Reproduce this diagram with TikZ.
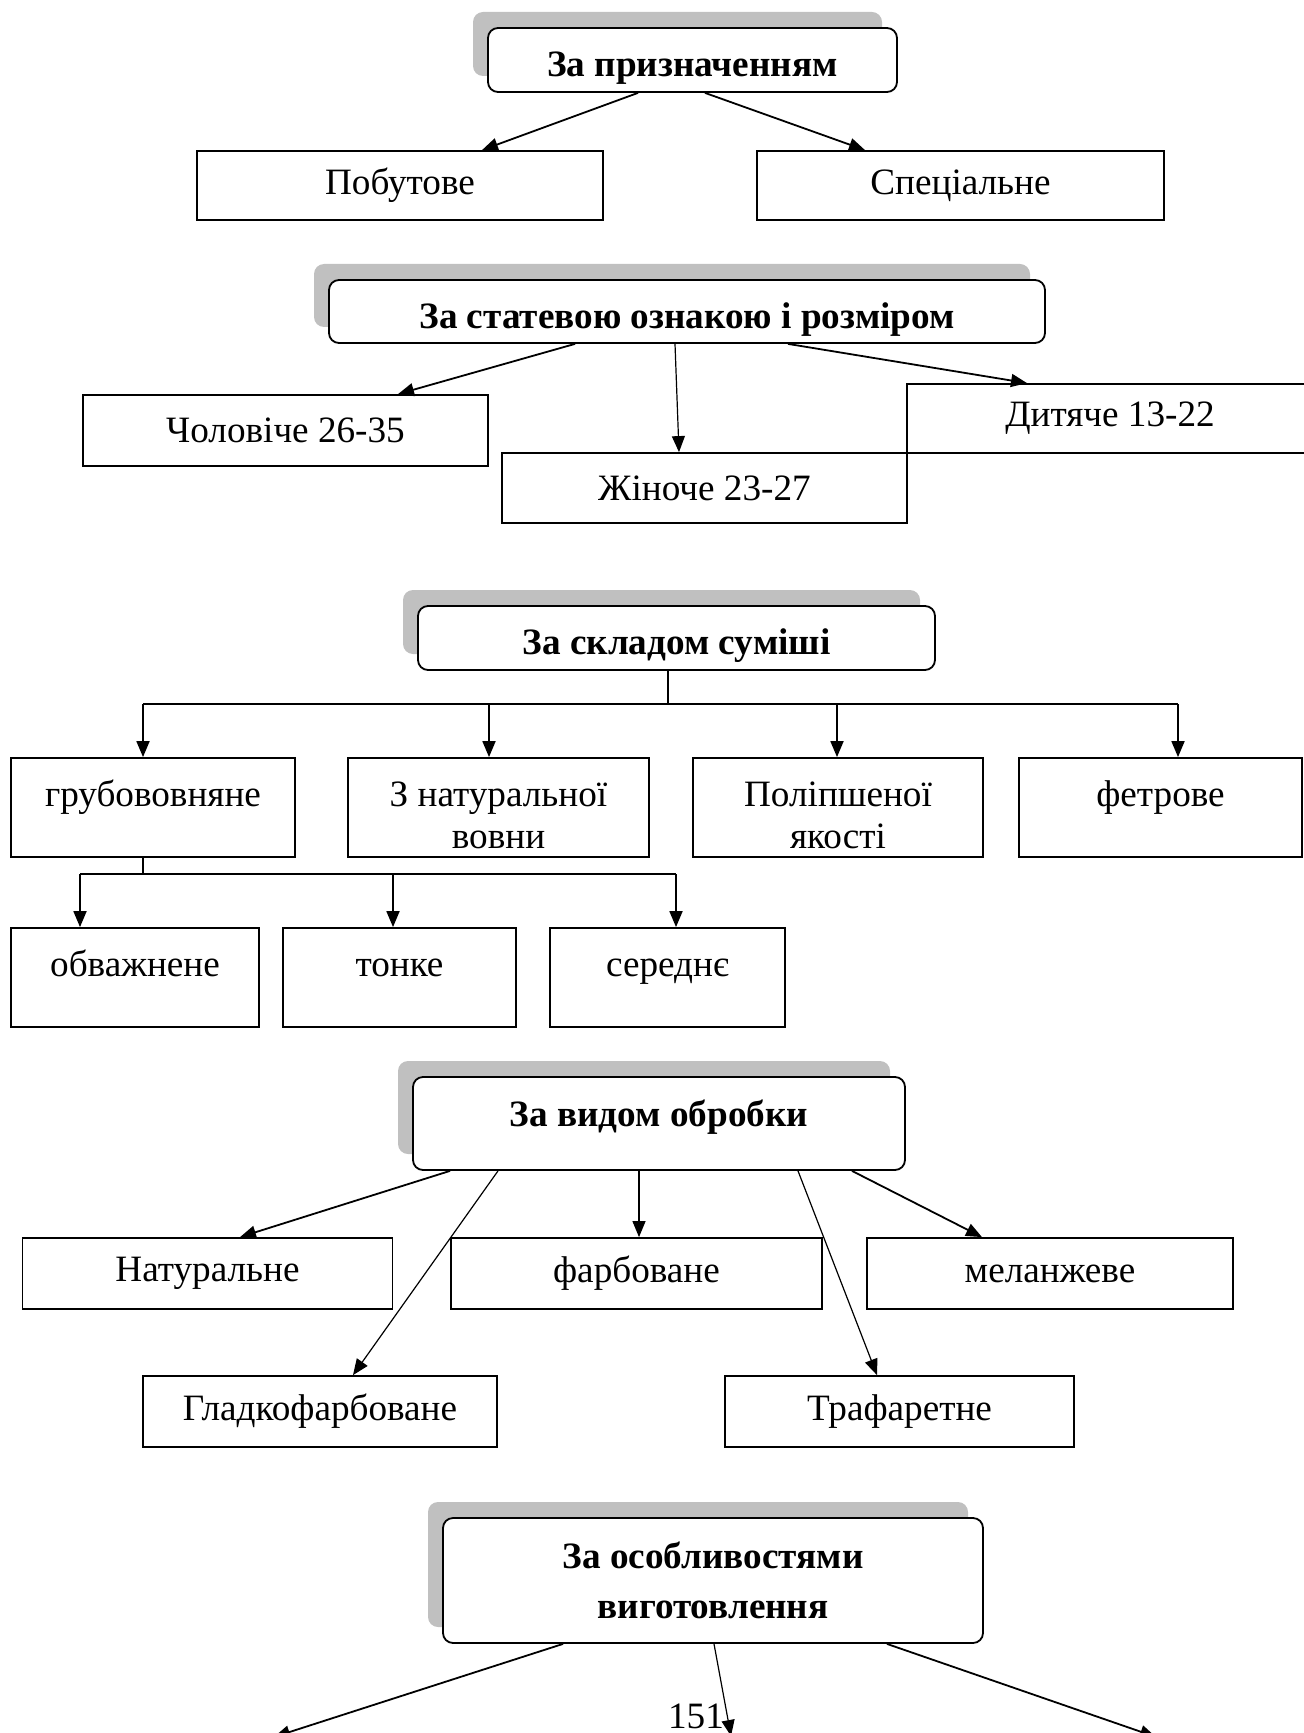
\documentclass[tikz,border=0pt]{standalone}
\usepackage{fontspec}
\setmainfont{Liberation Serif}
\usepackage{tikz}
\usetikzlibrary{arrows.meta, calc, shadows}
\definecolor{shadowgray}{RGB}{192,192,192}
\newcommand{\diagfont}{\fontsize{18.6}{21}\selectfont}

\begin{document}
\begin{tikzpicture}[
  x=0.5pt, y=-0.5pt,
  hdr/.style={draw, rounded corners=5pt, fill=white, line width=0.9pt, inner sep=0pt, align=center, font=\diagfont\bfseries,
    drop shadow={shadow xshift=-7.5pt, shadow yshift=8pt, fill=shadowgray, opacity=1}},
  hdrone/.style={hdr, text height=19pt, text depth=2.3pt},
  leaf/.style={draw, line width=0.9pt, inner sep=0pt, align=center, font=\diagfont},
  leaftop/.style={leaf, text height=24pt, text depth=25.5pt},
  leaftoptwo/.style={leaf, text height=45pt, text depth=4.5pt},
  flow/.style={-{Triangle[length=8pt, width=6.5pt]}, line width=0.9pt},
  flowthin/.style={flow, line width=0.6pt},
  bus/.style={line width=0.9pt},
  tie/.style={line width=0.6pt}
]
\useasboundingbox (0,0) rectangle (1304,1733);

% За призначенням
\node[hdrone, minimum width=204.5pt, minimum height=32pt] (hdrA) at (692.5,60) {За призначенням};
\node[leaf, minimum width=203pt, minimum height=34.5pt] (pob) at (400,185.5) {Побутове};
\node[leaf, minimum width=203.5pt, minimum height=34.5pt] (spec) at (960.5,185.5) {Спеціальне};

\draw[flow] ($(hdrA.south)+(-54.5,0)$) -- ($(pob.north)+(82,0)$);
\draw[flow] ($(hdrA.south)+(12.5,0)$) -- ($(spec.north)+(-95.5,0)$);

% За статевою ознакою
\node[hdrone, minimum width=358pt, minimum height=31.5pt] (hdrB) at (687,311.5) {За статевою ознакою і розміром};
\node[leaf, minimum width=202.5pt, minimum height=35.5pt] (chol) at (285.5,430.5) {Чоловіче 26-35};
\node[leaf, minimum width=202.5pt, minimum height=35pt] (zhin) at (704.5,488) {Жіноче 23-27};
\node[leaf, minimum width=203pt, minimum height=34.5pt] (dyt) at (1110,418.5) {Дитяче 13-22};

\draw[flow] ($(hdrB.south)+(-112,0)$) -- ($(chol.north)+(112.5,0)$);
\draw[flowthin] ($(hdrB.south)+(-12,0)$) -- ($(zhin.north)+(-25.5,0)$);
\draw[flow] ($(hdrB.south)+(101,0)$) -- ($(dyt.north)+(-83,0)$);

% За складом суміші
\node[hdrone, minimum width=258.5pt, minimum height=32pt] (hdrC) at (676.5,638) {За складом суміші};
\node[leaftop, minimum width=142pt] (grub) at (153,807.5) {грубововняне};
\node[leaftoptwo, minimum width=150.5pt] (nat) at (498.5,807.5) {З натуральної\\вовни};
\node[leaftoptwo, minimum width=145pt] (pol) at (838,807.5) {Поліпшеної\\якості};
\node[leaftop, minimum width=141.5pt] (fetr) at (1160.5,807.5) {фетрове};

\coordinate (busC) at (668,704);
\coordinate (c1) at (143,704);
\coordinate (c2) at (489,704);
\coordinate (c3) at (837,704);
\coordinate (c4) at (1178,704);
\draw[tie] ($(hdrC.south)+(-8.5,0)$) -- (busC);
\draw[bus] (c1) -- (c4);
\foreach \c/\n in {c1/grub, c2/nat, c3/pol, c4/fetr}
  \draw[flow] (\c) -- (\c |- \n.north);

% грубововняне
\node[leaftop, minimum width=124pt] (obv) at (135,977.5) {обважнене};
\node[leaftop, minimum width=116.5pt] (tonk) at (399.5,977.5) {тонке};
\node[leaftop, minimum width=117.5pt] (ser) at (667.5,977.5) {середнє};

\coordinate (d1) at (80,874);
\coordinate (d2) at (393,874);
\coordinate (d3) at (676,874);
\draw[tie] (c1 |- grub.south) -- (c1 |- d1);
\draw[bus] (d1) -- (d3);
\foreach \c/\n in {d1/obv, d2/tonk, d3/ser}
  \draw[flow] (\c) -- (\c |- \n.north);

% За видом обробки
\node[hdr, text height=13pt, text depth=10pt, minimum width=246pt, minimum height=46.5pt] (hdrD) at (659,1123.5) {За видом обробки};
\node[leaf, minimum width=185pt, minimum height=35.5pt] (natur) at (207.5,1273.5) {Натуральне};
\node[leaf, minimum width=185.5pt, minimum height=35.5pt] (farb) at (636.5,1273.5) {фарбоване};
\node[leaf, minimum width=183pt, minimum height=35.5pt] (melan) at (1050,1273.5) {меланжеве};
\node[leaf, minimum width=177pt, minimum height=35.5pt] (glad) at (320,1411.5) {Гладкофарбоване};
\node[leaf, minimum width=174.5pt, minimum height=35.5pt] (traf) at (899.5,1411.5) {Трафаретне};

\draw[flow] ($(hdrD.south)+(-209,0)$) -- ($(natur.north)+(32.5,0)$);
\draw[flowthin] ($(hdrD.south)+(-161,0)$) -- ($(glad.north)+(33,0)$);
\draw[flowthin] ($(hdrD.south)+(-20,0)$) -- ($(farb.north)+(2.5,0)$);
\draw[flowthin] ($(hdrD.south)+(139,0)$) -- ($(traf.north)+(-22.5,0)$);
\draw[flow] ($(hdrD.south)+(193,0)$) -- ($(melan.north)+(-68,0)$);

% За особливостями виготовлення
\node[hdr, minimum width=270pt, minimum height=62.5pt] (hdrE) at (713,1580.5) {За особливостями\\[4pt]виготовлення};
\node[font=\diagfont, inner sep=0pt] (page) at (696,1716) {151};

\coordinate (e1) at (274,1737);
\coordinate (e2) at (731,1736);
\coordinate (e3) at (1156,1737);
\draw[flow] ($(hdrE.south)+(-150,0)$) -- (e1);
\draw[flowthin] ($(hdrE.south)+(1,0)$) -- (e2);
\draw[flow] ($(hdrE.south)+(174,0)$) -- (e3);

\end{tikzpicture}
\end{document}
